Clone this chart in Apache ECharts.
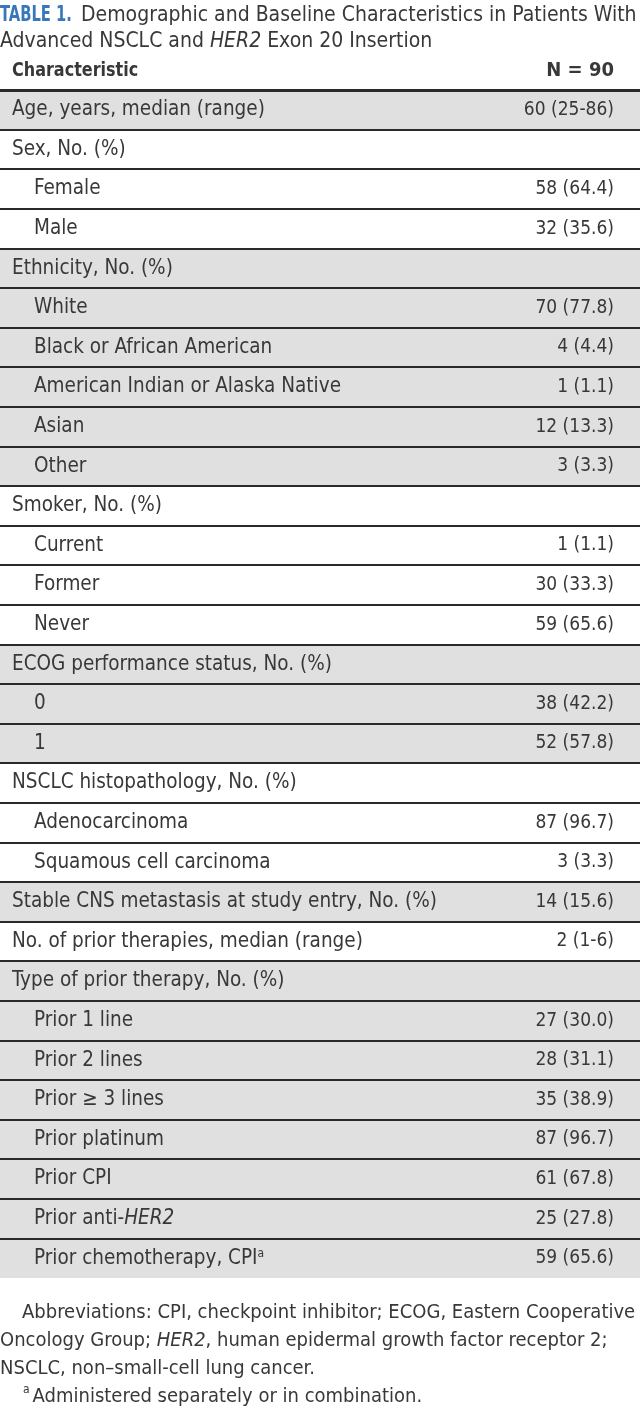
<!DOCTYPE html>
<html><head><meta charset="utf-8">
<script src="https://cdn.jsdelivr.net/npm/echarts@6/dist/echarts.min.js"></script>
<style>html,body{margin:0;padding:0;background:#fff}#c{width:640px;height:1414px}</style>
</head><body><div id="c"></div>
<script>
// ---- data ----
const characteristics = [
  'Age, years, median (range)',
  'Sex, No. (%)', 'Female', 'Male',
  'Ethnicity, No. (%)', 'White', 'Black or African American', 'American Indian or Alaska Native', 'Asian', 'Other',
  'Smoker, No. (%)', 'Current', 'Former', 'Never',
  'ECOG performance status, No. (%)', '0', '1',
  'NSCLC histopathology, No. (%)', 'Adenocarcinoma', 'Squamous cell carcinoma',
  'Stable CNS metastasis at study entry, No. (%)',
  'No. of prior therapies, median (range)',
  'Type of prior therapy, No. (%)', 'Prior 1 line', 'Prior 2 lines', 'Prior \u2265 3 lines', 'Prior platinum', 'Prior CPI',
  'Prior anti-{it|HER2}', 'Prior chemotherapy, CPI{sup|a}'
];
// 0 = group row, 1 = sub row
const levels = [0, 0,1,1, 0,1,1,1,1,1, 0,1,1,1, 0,1,1, 0,1,1, 0, 0, 0,1,1,1,1,1,1,1];
const values = [
  '60 (25-86)',
  '', '58 (64.4)', '32 (35.6)',
  '', '70 (77.8)', '4 (4.4)', '1 (1.1)', '12 (13.3)', '3 (3.3)',
  '', '1 (1.1)', '30 (33.3)', '59 (65.6)',
  '', '38 (42.2)', '52 (57.8)',
  '', '87 (96.7)', '3 (3.3)',
  '14 (15.6)',
  '2 (1-6)',
  '', '27 (30.0)', '28 (31.1)', '35 (38.9)', '87 (96.7)', '61 (67.8)', '25 (27.8)', '59 (65.6)'
];
const tableLabel = 'TABLE 1.';
const titleLines = [
  'Demographic and Baseline Characteristics in Patients With',
  'Advanced NSCLC and {i|HER2} Exon 20 Insertion'
];
const columnHeaders = ['Characteristic', 'N = 90'];
const footnotes = [
  'Abbreviations: CPI, checkpoint inhibitor; ECOG, Eastern Cooperative',
  'Oncology Group; {it|HER2}, human epidermal growth factor receptor 2;',
  'NSCLC, non\u2013small-cell lung cancer.',
  '{sup|a}Administered separately or in combination.'
];

// ---- styling ----
const FONT = "'DejaVu Sans Condensed', sans-serif";
const TXT = '#383838';
const GREY = '#e1e0e0';
const LINE = '#2a2a2a';
const FS = 20.5;
const FSV = 19;
let g = -1;
const groupIdx = levels.map(l => { if (l === 0) g++; return g; });
const rowColor = groupIdx.map(i => i % 2 === 0 ? GREY : '#ffffff');
const richRow = {
  it: { fontStyle: 'italic', fontSize: FS, fontFamily: FONT, color: TXT },
  sup: { fontSize: 12, fontFamily: FONT, color: TXT, verticalAlign: 'top', padding: [0, 1, 9, 0] }
};
const richNote = {
  it: { fontStyle: 'italic', fontSize: 20, fontFamily: FONT, color: TXT, lineHeight: 26 },
  sup: { fontSize: 12, fontFamily: FONT, color: TXT, verticalAlign: 'top', padding: [0, 3, 9, 0] }
};
const cats = characteristics.map((_, i) => 'r' + i);
const splitColors = cats.map(() => LINE).concat(['rgba(0,0,0,0)']);

const txtStyle = (size, extra) => Object.assign({
  fontFamily: FONT, fontSize: size, fontWeight: 'normal', color: TXT, lineHeight: 26
}, extra || {});

const chart = echarts.init(document.getElementById('c'), null, { renderer: 'canvas' });
chart.setOption({
  animation: false,
  backgroundColor: '#fff',
  graphic: [
    {
      type: 'text', x: 0, y: 16, scaleX: 0.78,
      style: { text: tableLabel, font: 'bold 21px ' + FONT, fill: '#3877ba', align: 'left', verticalAlign: 'middle' }
    },
    {
      type: 'text', x: 12, y: 71, scaleX: 0.89,
      style: { text: columnHeaders[0], font: 'bold 20px ' + FONT, fill: TXT, align: 'left', verticalAlign: 'middle' }
    },
    {
      type: 'text', x: 614, y: 71, scaleX: 1.0,
      style: { text: columnHeaders[1], font: 'bold 20px ' + FONT, fill: TXT, align: 'right', verticalAlign: 'middle' }
    }
  ],
  title: [
    {
      left: 81, top: 3, padding: 0, text: titleLines[0], textStyle: txtStyle(21)
    },
    {
      left: 0, top: 29, padding: 0, text: titleLines[1],
      textStyle: txtStyle(21, { rich: { i: { fontFamily: FONT, fontSize: 21, fontStyle: 'italic', color: TXT, lineHeight: 26 } } })
    }
  ].concat(footnotes.map((t, i) => ({
    left: (i === 0) ? 22 : (i === 3 ? 23 : 0),
    top: 1300 + i * 28,
    padding: 0,
    text: t,
    textStyle: txtStyle(20, { rich: richNote })
  }))),
  grid: { left: 0, right: 0, top: 90, height: 1188 },
  xAxis: {
    type: 'value', min: 0, max: 1, position: 'top', z: 5,
    axisLine: { show: true, lineStyle: { color: LINE, width: 3 } },
    axisTick: { show: false }, axisLabel: { show: false }, splitLine: { show: false }
  },
  yAxis: {
    type: 'category', inverse: true, data: cats, z: 4,
    axisLine: { show: false }, axisTick: { show: false }, axisLabel: { show: false },
    splitLine: { show: true, interval: 0, showMaxLine: false, lineStyle: { color: splitColors, width: 2 } }
  },
  series: [
    {
      type: 'bar', stack: 'row', barWidth: '100%', barCategoryGap: 0, silent: true,
      data: characteristics.map((c, i) => ({
        value: 0.5,
        itemStyle: { color: rowColor[i] },
        label: { distance: levels[i] ? 34 : 12 }
      })),
      label: {
        show: true, position: 'insideLeft',
        formatter: p => characteristics[p.dataIndex],
        fontFamily: FONT, fontSize: FS, color: TXT, rich: richRow
      }
    },
    {
      type: 'bar', stack: 'row', barWidth: '100%', silent: true,
      data: values.map((v, i) => ({ value: 0.5, itemStyle: { color: rowColor[i] } })),
      label: {
        show: true, position: 'insideRight', distance: 26,
        formatter: p => values[p.dataIndex],
        fontFamily: FONT, fontSize: FSV, color: TXT
      }
    }
  ]
});
</script></body></html>
